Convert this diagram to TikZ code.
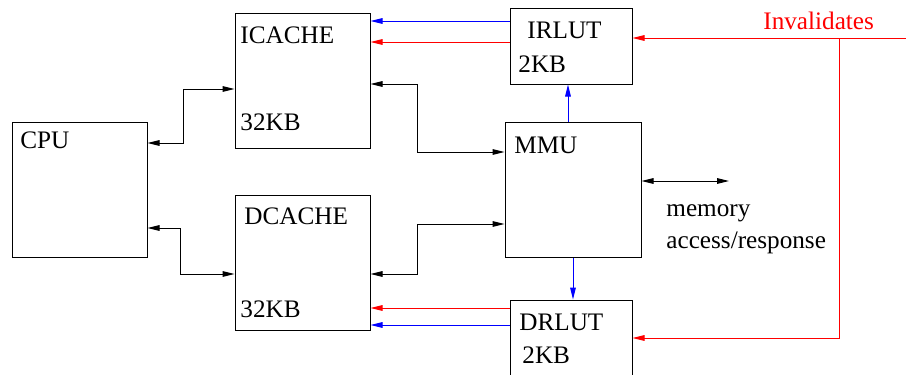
\documentclass[tikz,border=0pt]{standalone}
\usepackage{fontspec}
\setmainfont{Liberation Serif}
\usetikzlibrary{positioning,arrows.meta}

\begin{document}
\begin{tikzpicture}[
    x=0.5pt, y=-0.5pt,
    every node/.style={font=\fontsize{12.6}{15}\selectfont},
    box/.style={draw, line width=0.5pt, inner sep=0pt},
    bigbox/.style={box, minimum width=67.5pt, minimum height=67.5pt},
    lutbox/.style={box, minimum width=61pt, minimum height=38pt},
    lbl/.style={anchor=base west, inner sep=0pt},
    arr/.style={-{Triangle[length=6pt,width=2.8pt]}, line width=0.5pt},
    biarr/.style={{Triangle[length=6pt,width=2.8pt]}-{Triangle[length=6pt,width=2.8pt]}, line width=0.5pt}
]
\useasboundingbox (0,0) rectangle (906,375);

% blocks
\node[bigbox] (cpu) at (79.5,190) {};
\node[bigbox] (icache) at (302.5,80.5) {};
\node[bigbox, below=23pt of icache] (dcache) {};
\node[bigbox, minimum width=68pt] (mmu) at (573,190) {};
\node[lutbox] (irlut) at (571,46) {};
\node[lutbox] (drlut) at (571,338) {};

% texts
\node[lbl] (cpuname) at (20,148) {CPU};
\node[lbl] (icname) at (240,43) {ICACHE};
\node[lbl] (icsize) at (240,130) {32KB};
\node[lbl] (irname) at (527,39) {IRLUT};
\node[lbl] (irsize) at (518,72) {2KB};
\node[lbl] (mmuname) at (514,153) {MMU};
\node[lbl] (dcname) at (244,224) {DCACHE};
\node[lbl] (dcsize) at (240,317) {32KB};
\node[lbl] (drname) at (519,330) {DRLUT};
\node[lbl] (drsize) at (522,363) {2KB};
\node[lbl] (memtxt) at (666,216) {memory};
\node[lbl] (acctxt) at (666,248) {access/response};
\node[lbl, text=red] (invtxt) at (763,29) {Invalidates};

% data paths
\draw[biarr] (cpu.east |- 0,143) -| (183,89) -- (icache.west |- 0,89);
\draw[biarr] (cpu.east |- 0,228) -| (180,274) -- (dcache.west |- 0,274);
\draw[biarr] (icache.east |- 0,84) -| (417,152) -- (mmu.west |- 0,152);
\draw[biarr] (dcache.east |- 0,274) -| (417,224) -- (mmu.west |- 0,224);
\coordinate (memend) at (729,181);
\draw[biarr] (mmu.east |- memend) -- (memend);

% lookup tables
\draw[arr, blue] (irlut.west |- 0,21) -- (icache.east |- 0,21);
\draw[arr, red] (irlut.west |- 0,42) -- (icache.east |- 0,42);
\draw[arr, blue] (mmu.north -| 568,0) -- (irlut.south -| 568,0);
\draw[arr, blue] (mmu.south) -- (drlut.north -| mmu.south);
\draw[arr, red] (drlut.west |- 0,308) -- (dcache.east |- 0,308);
\draw[arr, blue] (drlut.west |- 0,325) -- (dcache.east |- 0,325);

% invalidation
\coordinate (inv) at (906,38);
\draw[arr, red] (inv) -- (irlut.east |- inv);
\draw[arr, red] (839,38) |- (drlut.east |- 0,338);
\end{tikzpicture}
\end{document}
